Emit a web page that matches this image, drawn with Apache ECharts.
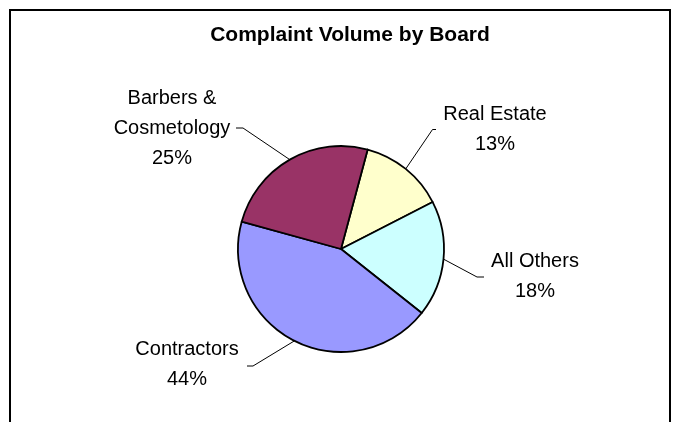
<!DOCTYPE html>
<html>
<head>
<meta charset="utf-8">
<script src="https://cdn.jsdelivr.net/npm/echarts@6/dist/echarts.min.js"></script>
<style>
html,body{margin:0;padding:0;background:#fff;}
#c{width:674px;height:422px;}
</style>
</head>
<body>
<div id="c"></div>
<script>
// Data (clockwise from the start angle)
var categories = ['Real Estate', 'All Others', 'Contractors', 'Barbers &\nCosmetology'];
var values = [13.3, 18.2, 43.6, 24.9];
var colors = ['#FFFFCC', '#CCFFFF', '#9999FF', '#993366'];
var titleText = 'Complaint Volume by Board';

// Label layout (positions of the label blocks: centre x, centre y)
var labelPos = [
  {x: 495, y: 129},
  {x: 535, y: 276},
  {x: 187, y: 364},
  {x: 172, y: 128}
];
var leaderEnds = [
  [[432.5, 129.5], [436, 129.5]],
  [[477, 277], [484, 277]],
  [[253, 366], [247, 366]],
  [[243, 128], [236, 128]]
];

var chart = echarts.init(document.getElementById('c'), null, {renderer: 'canvas'});
var FONT = '"Liberation Sans", Arial, sans-serif';

chart.setOption({
  animation: false,
  backgroundColor: '#ffffff',
  title: {
    text: titleText,
    left: 345,
    top: 20,
    textAlign: 'center',
    textStyle: {fontFamily: FONT, fontWeight: 'bold', fontSize: 21, color: '#000'}
  },
  graphic: [{
    type: 'rect',
    shape: {x: 10, y: 10, width: 660, height: 500},
    style: {fill: 'none', stroke: '#000', lineWidth: 2},
    silent: true
  }],
  series: [{
    type: 'pie',
    center: [341, 249],
    radius: [0, 103],
    startAngle: 75,
    clockwise: true,
    avoidLabelOverlap: false,
    data: categories.map(function (c, i) {
      return {name: c, value: values[i], itemStyle: {color: colors[i]}};
    }),
    itemStyle: {borderColor: '#000', borderWidth: 1.8},
    label: {
      show: true,
      position: 'outside',
      fontFamily: FONT,
      fontSize: 20,
      lineHeight: 30,
      color: '#000',
      align: 'center',
      formatter: function (p) {
        return p.name + '\n' + Math.round(p.percent) + '%';
      }
    },
    labelLine: {
      show: true,
      length: 10,
      length2: 5,
      lineStyle: {color: '#000', width: 1}
    },
    labelLayout: function (params) {
      var i = params.dataIndex;
      var pos = labelPos[i];
      var p0 = params.labelLinePoints ? params.labelLinePoints[0] : null;
      var res = {x: pos.x, y: pos.y, align: 'center', verticalAlign: 'middle'};
      if (p0) {
        res.labelLinePoints = [p0, leaderEnds[i][0], leaderEnds[i][1]];
      }
      return res;
    },
    emphasis: {disabled: true}
  }]
});
</script>
</body>
</html>
